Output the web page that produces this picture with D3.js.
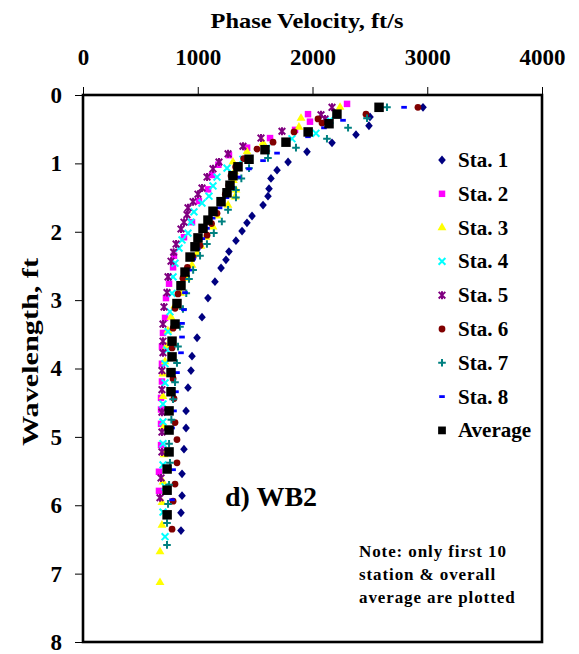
<!DOCTYPE html>
<html>
<head>
<meta charset="utf-8">
<script src="https://cdn.jsdelivr.net/npm/d3@7"></script>
<style>
  html, body { margin: 0; padding: 0; background: #fff; }
  svg { display: block; }
  text { font-family: "Liberation Serif", "Times New Roman", serif; font-weight: bold; fill: #000; }
</style>
</head>
<body>
<svg id="chart" width="579" height="654"></svg>
<script>
// Dispersion curves: [phase velocity (ft/s), wavelength (ft)]
const sta1 = [[2963,0.18],[2501,0.32],[2492,0.45],[2379,0.58],[2170,0.70],[1952,0.83],[1787,0.98],[1691,1.10],[1638,1.22],[1621,1.37],[1612,1.48],[1569,1.61],[1473,1.77],[1429,1.87],[1386,1.99],[1333,2.13],[1272,2.29],[1246,2.41],[1203,2.53],[1150,2.73],[1089,2.97],[1037,3.25],[994,3.55],[950,3.82],[941,4.03],[915,4.28],[898,4.62],[898,4.87],[880,5.18],[863,5.54],[863,5.86],[854,6.11],[854,6.37]];
const sta2 = [[2301,0.13],[1961,0.28],[1978,0.39],[1848,0.51],[1630,0.63],[1430,0.77],[1272,0.88],[1180,1.02],[1124,1.17],[1090,1.38],[1010,1.55],[950,1.86],[880,2.08],[793,2.35],[785,2.52],[750,2.76],[723,2.97],[715,3.26],[697,3.48],[688,3.68],[688,3.93],[688,4.19],[680,4.43],[680,4.60],[680,4.81],[680,5.12],[662,5.51],[662,5.79]];
const sta3 = [[2240,0.18],[1900,0.34],[1882,0.47],[1569,0.70],[1429,0.83],[1307,0.98],[1320,1.12],[1310,1.25],[1333,1.39],[1325,1.49],[1264,1.61],[1168,1.77],[1133,1.93],[1072,2.08],[1028,2.21],[994,2.32],[950,2.49],[900,2.68],[850,2.90],[800,3.08],[767,3.25],[740,3.45],[725,3.68],[715,3.90],[697,4.08],[697,4.41],[706,4.85],[706,5.26],[697,5.66],[688,5.96],[688,6.29],[671,6.68],[671,7.13]];
const sta4 = [[2152,0.37],[2030,0.56],[1821,0.64],[1600,0.78],[1394,0.94],[1255,1.07],[1168,1.20],[1133,1.33],[1098,1.48],[1037,1.58],[967,1.71],[940,1.86],[915,2.02],[863,2.12],[837,2.24],[802,2.46],[785,2.66],[776,2.90],[758,3.17],[741,3.46],[732,3.73],[715,3.93],[715,4.21],[697,4.52],[697,4.78],[697,5.10],[697,5.41],[715,5.73],[697,6.10],[715,6.46]];
const sta5 = [[2170,0.18],[2074,0.29],[2109,0.35],[1734,0.53],[1551,0.63],[1394,0.75],[1264,0.86],[1185,0.98],[1133,1.08],[1081,1.20],[1037,1.36],[1002,1.45],[959,1.56],[915,1.65],[906,1.75],[880,1.86],[854,1.96],[811,2.18],[790,2.30],[767,2.43],[741,2.66],[732,2.89],[706,3.10],[697,3.35],[697,3.60],[697,3.77],[688,4.03],[688,4.31],[688,4.64],[688,4.93],[688,5.22],[680,5.60],[671,5.89]];
const sta6 = [[2919,0.18],[2466,0.28],[2048,0.35],[2083,0.41],[1839,0.54],[1656,0.69],[1516,0.79],[1400,0.93],[1330,1.05],[1290,1.18],[1270,1.32],[1240,1.45],[1200,1.58],[1168,1.73],[1120,1.88],[1081,2.05],[1020,2.20],[960,2.37],[910,2.52],[871,2.68],[828,2.91],[802,3.12],[785,3.41],[776,3.70],[785,4.15],[793,4.44],[802,4.79],[819,5.04],[819,5.38],[802,5.69],[785,5.94],[776,6.35]];
const sta7 = [[2649,0.18],[2475,0.34],[2310,0.48],[2126,0.64],[1856,0.77],[1612,0.92],[1447,1.07],[1380,1.22],[1333,1.39],[1333,1.50],[1264,1.68],[1210,1.85],[1140,2.02],[1080,2.18],[1020,2.35],[960,2.56],[924,2.69],[900,2.90],[871,3.13],[845,3.39],[828,3.68],[819,3.92],[802,4.20],[785,4.45],[770,4.75],[750,5.10],[758,5.38],[750,5.70],[741,5.98],[732,6.26],[732,6.58]];
const sta8 = [[2798,0.18],[2266,0.37],[2100,0.48],[1961,0.61],[1691,0.85],[1569,0.96],[1447,1.08],[1351,1.20],[1300,1.35],[1250,1.50],[1190,1.65],[1130,1.80],[1080,1.95],[1040,2.10],[1000,2.25],[960,2.40],[924,2.56],[889,2.89],[880,3.14],[863,3.34],[863,3.54],[854,3.77],[819,4.06],[810,4.34],[793,4.62],[776,4.87],[785,5.48],[776,5.92]];
const average = [[2580,0.18],[2213,0.28],[2144,0.42],[1962,0.54],[1769,0.69],[1586,0.80],[1447,0.94],[1351,1.05],[1307,1.18],[1281,1.32],[1255,1.43],[1203,1.56],[1133,1.70],[1089,1.83],[1046,1.95],[1002,2.09],[976,2.22],[933,2.37],[889,2.59],[854,2.79],[819,3.05],[802,3.35],[776,3.60],[776,3.83],[767,4.06],[767,4.34],[750,4.62],[750,4.90],[750,5.22],[733,5.47],[733,5.78],[733,6.14]];

const seriesNames = ["Sta. 1","Sta. 2","Sta. 3","Sta. 4","Sta. 5","Sta. 6","Sta. 7","Sta. 8","Average"];
const seriesData = [sta1, sta2, sta3, sta4, sta5, sta6, sta7, sta8, average];
const seriesColors = ["#000080","#FF00FF","#FFFF00","#00FFFF","#800080","#800000","#008080","#0000FF","#000000"];
const seriesShapes = ["diamond","square","triangle","x","star","circle","plus","dash","bigsquare"];

const velocityTicks = [0, 1000, 2000, 3000, 4000];
const wavelengthTicks = [0, 1, 2, 3, 4, 5, 6, 7, 8];

const svg = d3.select("#chart");
const plot = { left: 83, top: 95, right: 542, bottom: 642 };

const x = d3.scaleLinear().domain([0, 4000]).range([plot.left, plot.right]);
const y = d3.scaleLinear().domain([0, 8]).range([plot.top, plot.bottom]);

// Top axis (velocity)
const xAxis = svg.append("g")
  .attr("transform", `translate(0,${plot.top})`)
  .call(d3.axisTop(x).tickValues(velocityTicks).tickSize(8).tickPadding(22).tickFormat(d3.format("d")));
xAxis.select(".domain").remove();
xAxis.selectAll("line").attr("stroke", "#000").attr("stroke-width", 1);
xAxis.selectAll("text").style("font-size", "23px").style("font-family", "Liberation Serif").style("font-weight", "bold");

// Left axis (wavelength, increasing downward)
const yAxis = svg.append("g")
  .attr("transform", `translate(${plot.left},0)`)
  .call(d3.axisLeft(y).tickValues(wavelengthTicks).tickSize(8).tickPadding(13).tickFormat(d3.format("d")));
yAxis.select(".domain").remove();
yAxis.selectAll("line").attr("stroke", "#000").attr("stroke-width", 1);
yAxis.selectAll("text").style("font-size", "23px").style("font-family", "Liberation Serif").style("font-weight", "bold");

// Plot frame
svg.append("rect")
  .attr("x", plot.left).attr("y", plot.top)
  .attr("width", plot.right - plot.left).attr("height", plot.bottom - plot.top)
  .attr("fill", "none").attr("stroke", "#000").attr("stroke-width", 2.6);

// Axis titles
svg.append("text").attr("x", 307).attr("y", 28).attr("text-anchor", "middle")
  .style("font-size", "22px").attr("textLength", 193).attr("lengthAdjust", "spacingAndGlyphs")
  .text("Phase Velocity, ft/s");
svg.append("text").attr("transform", "translate(38,352) rotate(-90)").attr("text-anchor", "middle")
  .style("font-size", "23px").attr("textLength", 188).attr("lengthAdjust", "spacingAndGlyphs")
  .text("Wavelength, ft");

// Marker shapes
function markerPath(shape) {
  switch (shape) {
    case "diamond": return "M0,-4.4L3.8,0L0,4.4L-3.8,0Z";
    case "square": return d3.symbol(d3.symbolSquare, 42)();
    case "bigsquare": return d3.symbol(d3.symbolSquare, 90)();
    case "triangle": return d3.symbol(d3.symbolTriangle, 34)();
    case "circle": return d3.symbol(d3.symbolCircle, 36)();
    case "plus": return "M-3.8,0H3.8M0,-3.8V3.8";
    case "x": return "M-3.4,-3.4L3.4,3.4M-3.4,3.4L3.4,-3.4";
    case "star": return "M-3.3,-3.3L3.3,3.3M-3.3,3.3L3.3,-3.3M0,-4V4";
    case "dash": return "M-2.8,0H2.8";
  }
}
function styleMarker(sel, shape, color) {
  if (["plus", "x", "star"].includes(shape)) {
    sel.attr("fill", "none").attr("stroke", color).attr("stroke-width", 2);
  } else if (shape === "dash") {
    sel.attr("fill", "none").attr("stroke", color).attr("stroke-width", 2.8);
  } else {
    sel.attr("fill", color).attr("stroke", "none");
  }
}

const marks = svg.append("g");
seriesData.forEach((data, i) => {
  const shape = seriesShapes[i];
  const g = marks.append("g").attr("class", "series");
  const pts = g.selectAll("path").data(data).join("path")
    .attr("transform", d => `translate(${x(d[0])},${y(d[1])})`)
    .attr("d", markerPath(shape));
  styleMarker(pts, shape, seriesColors[i]);
});

// Legend
const legend = svg.append("g");
seriesNames.forEach((name, i) => {
  const ly = 160 + i * 33.8;
  const shape = seriesShapes[i];
  const m = legend.append("path")
    .attr("transform", `translate(442,${ly})`)
    .attr("d", shape === "bigsquare" ? d3.symbol(d3.symbolSquare, 60)() : markerPath(shape));
  styleMarker(m, shape, seriesColors[i]);
  legend.append("text").attr("x", 458).attr("y", ly + 7).style("font-size", "21px").text(name);
});

// Annotations
svg.append("text").attr("x", 225).attr("y", 506).style("font-size", "28px").text("d) WB2");
const note = ["Note: only first 10", "station & overall", "average are plotted"];
note.forEach((t, i) => {
  svg.append("text").attr("x", 359).attr("y", 557 + i * 23).style("font-size", "17px")
    .style("letter-spacing", "0.9px").text(t);
});
</script>
</body>
</html>
